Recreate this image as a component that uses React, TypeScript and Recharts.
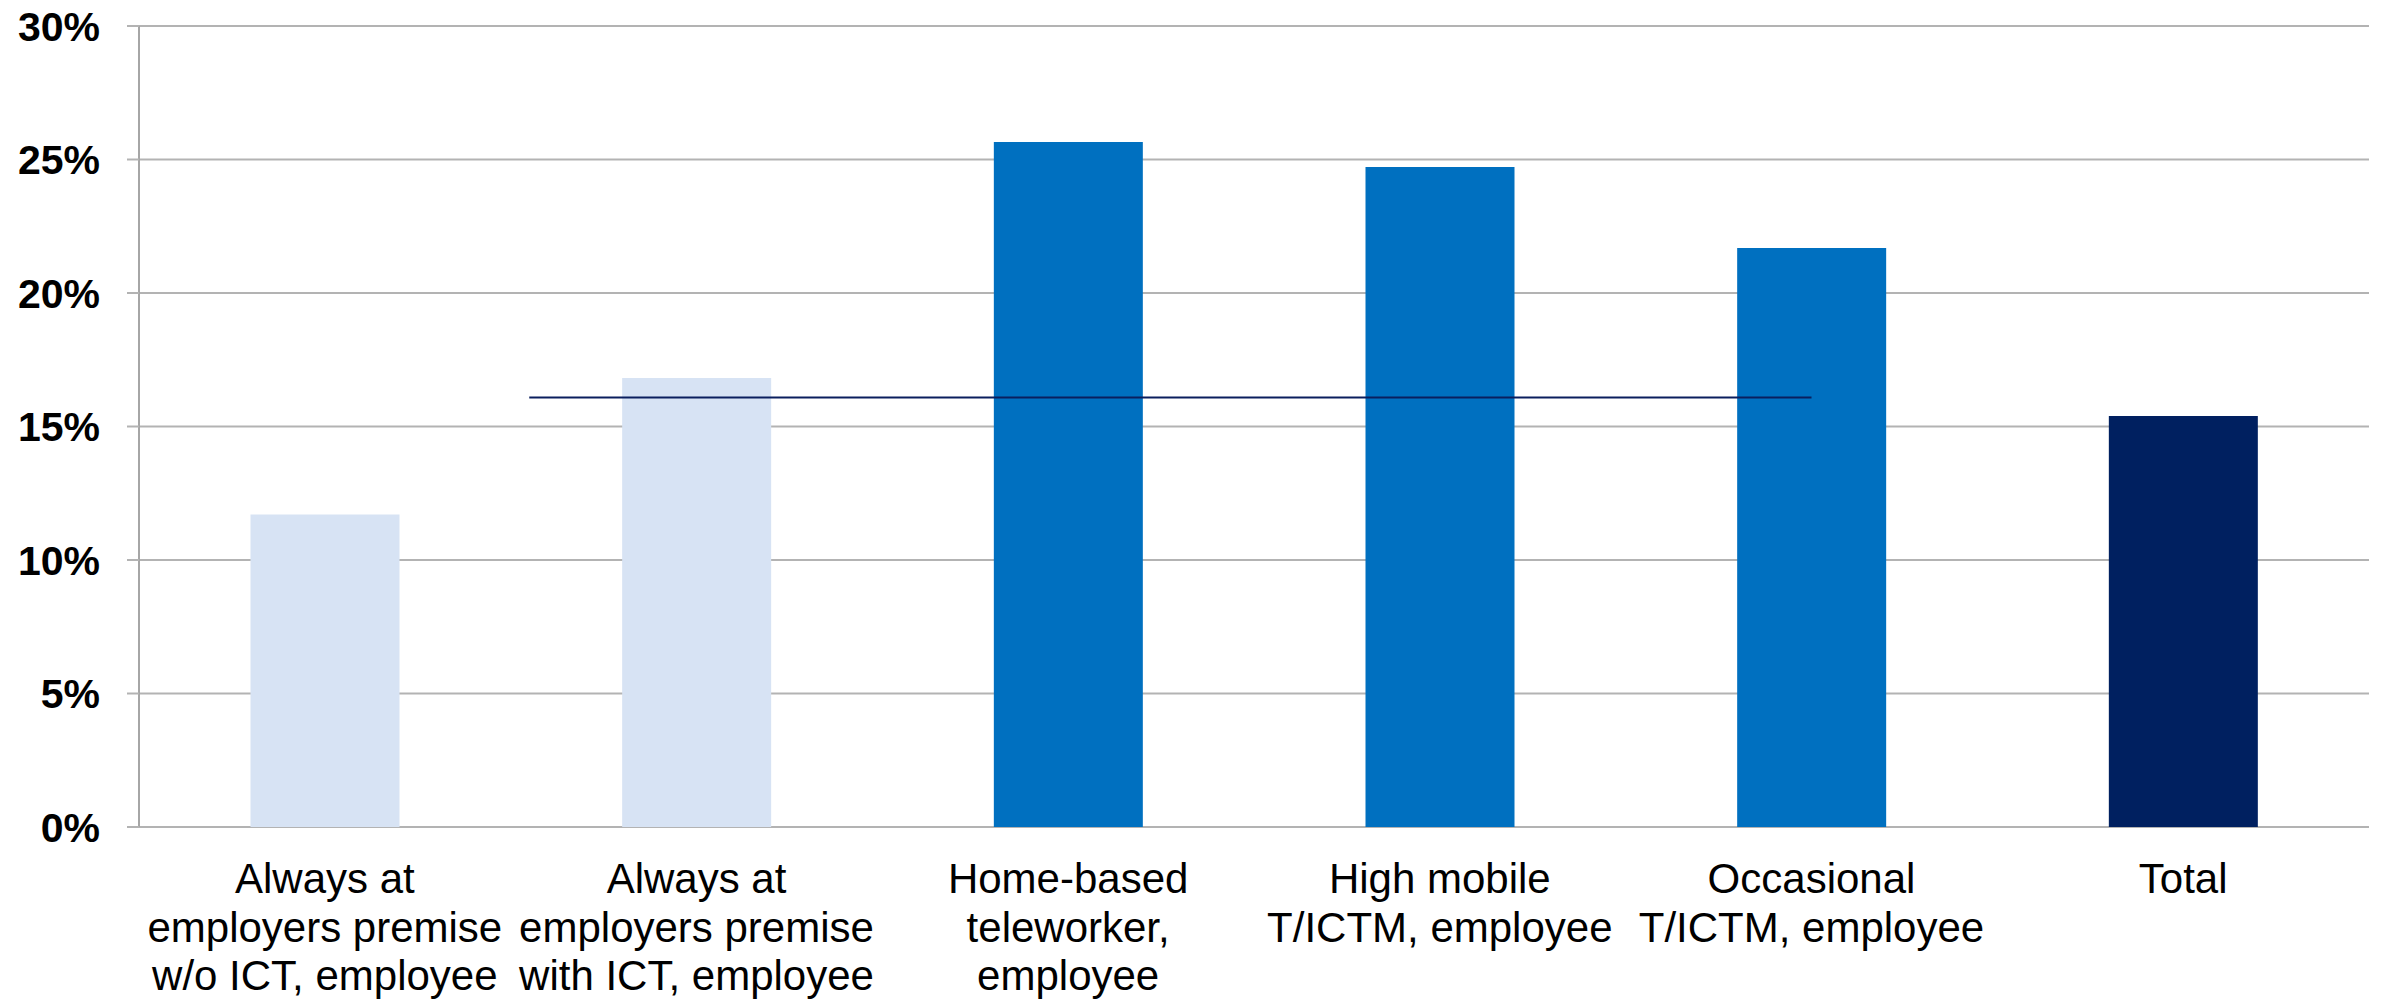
import { BarChart, Bar, XAxis, YAxis, CartesianGrid, Cell, ReferenceLine } from "recharts";

// Category labels, one entry per line of the wrapped label
const categoryLines: string[][] = [
  ["Always at", "employers premise", "w/o ICT, employee"],
  ["Always at", "employers premise", "with ICT, employee"],
  ["Home-based", "teleworker,", "employee"],
  ["High mobile", "T/ICTM, employee"],
  ["Occasional", "T/ICTM, employee"],
  ["Total"],
];

// Share of employees, in percent
const shares = [11.7, 16.82, 25.66, 24.72, 21.69, 15.39];

// Which group each category belongs to (drives the bar colour)
const groups = ["office", "office", "tele", "tele", "tele", "total"];

// Average over the teleworking groups, drawn as a horizontal segment
const averageShare = 16.09;
const averageFrom = 1.05;
const averageTo = 4.5;

const yTicks = [0, 5, 10, 15, 20, 25, 30];
const slotTicks = [0, 1, 2, 3, 4, 5, 6];

const palette: Record<string, string> = {
  office: "#D7E3F4",
  tele: "#0070C0",
  total: "#002060",
};

const FONT = '"Liberation Sans", Arial, Helvetica, sans-serif';
const GRID = "#b3b3b3";
const AXIS = "#a6a6a6";

const data = shares.map((value, i) => ({
  name: categoryLines[i].join(" "),
  slot: i + 0.5,
  value,
  group: groups[i],
}));

function CategoryTick(props: any) {
  const { x, y, payload } = props;
  const lines = categoryLines[payload.index] ?? [String(payload.value)];
  return (
    <text x={x} y={y} textAnchor="middle" fontFamily={FONT} fontSize={42} fill="#000">
      {lines.map((line, i) => (
        <tspan key={i} x={x} dy={i === 0 ? 66 : 48.5}>
          {line}
        </tspan>
      ))}
    </text>
  );
}

export default function App() {
  return (
    <div style={{ position: "absolute", left: 0, top: 0, width: 2382, height: 999, background: "#fff" }}>
      <BarChart
        width={2382}
        height={999}
        data={data}
        margin={{ top: 26, right: 13, bottom: 0, left: 0 }}
        barCategoryGap="30%"
      >
        <CartesianGrid vertical={false} stroke={GRID} strokeWidth={2} />
        {/* positional axis: category boundary ticks and the average segment */}
        <XAxis
          xAxisId="slots"
          dataKey="slot"
          type="number"
          scale="linear"
          domain={[0, 6]}
          ticks={slotTicks}
          interval={0}
          height={0}
          tickSize={13}
          tickFormatter={() => ""}
          axisLine={{ stroke: AXIS, strokeWidth: 2 }}
          tickLine={{ stroke: AXIS, strokeWidth: 2 }}
          allowDataOverflow
        />
        <XAxis
          xAxisId="cat"
          dataKey="name"
          height={172}
          interval={0}
          axisLine={false}
          tickLine={false}
          tickSize={0}
          tickMargin={0}
          tick={<CategoryTick />}
        />
        <YAxis
          width={139}
          domain={[0, 30]}
          ticks={yTicks}
          interval={0}
          tickSize={12}
          tickMargin={27}
          tickFormatter={(v: number) => `${v}%`}
          axisLine={{ stroke: AXIS, strokeWidth: 2 }}
          tickLine={{ stroke: GRID, strokeWidth: 2 }}
          tick={{ fill: "#000", fontSize: 41, fontWeight: 700, fontFamily: FONT }}
        />
        <Bar dataKey="value" xAxisId="cat" isAnimationActive={false}>
          {data.map((d, i) => (
            <Cell key={`bar-${i}`} fill={palette[d.group]} />
          ))}
        </Bar>
        <ReferenceLine
          xAxisId="slots"
          segment={[
            { x: averageFrom, y: averageShare },
            { x: averageTo, y: averageShare },
          ]}
          stroke="#0b1f5e"
          strokeWidth={2}
        />
      </BarChart>
    </div>
  );
}
